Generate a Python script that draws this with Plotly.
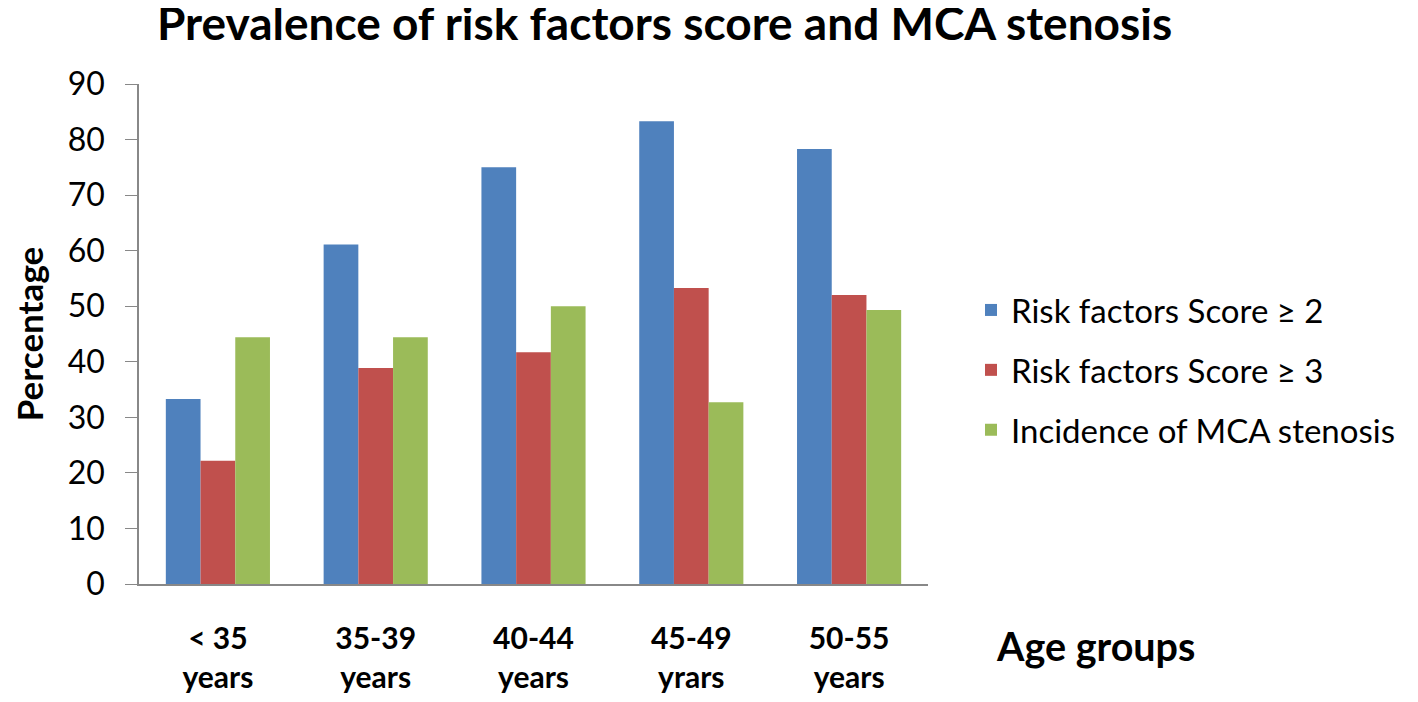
import plotly.graph_objects as go

categories = ["< 35<br>years", "35-39<br>years", "40-44<br>years", "45-49<br>yrars", "50-55<br>years"]
score2 = [33.3, 61.1, 75.0, 83.3, 78.3]
score3 = [22.2, 38.9, 41.7, 53.3, 52.0]
mca = [44.4, 44.4, 50.0, 32.7, 49.3]
series_names = ["Risk factors Score ≥ 2", "Risk factors Score ≥ 3", "Incidence of MCA stenosis"]
colors = ["#4F81BD", "#C0504D", "#9BBB59"]

font_family = "Lato, 'Open Sans', sans-serif"

fig = go.Figure()
for i, (name, vals, c) in enumerate(zip(series_names, [score2, score3, mca], colors)):
    fig.add_trace(go.Bar(x=categories, y=vals, name=name, legendgroup=f"g{i}",
                         marker=dict(color=c, line=dict(width=0))))

fig.update_layout(
    width=1418, height=702,
    barmode="group", bargap=0.34, bargroupgap=0,
    plot_bgcolor="white", paper_bgcolor="white",
    margin=dict(l=131, r=498, t=76, b=126, autoexpand=False),
    font=dict(family=font_family, color="black"),
    title=dict(text="<b>Prevalence of risk factors score and MCA stenosis</b>",
               x=0.463, xanchor="center", y=1.0, yanchor="top",
               font=dict(size=46, color="black")),
    legend=dict(x=1.0545, y=0.428, xanchor="left", yanchor="middle",
                font=dict(size=33, color="black"), tracegroupgap=14,
                itemwidth=30),
    showlegend=True,
)
fig.update_yaxes(range=[0, 90], dtick=10, showgrid=False, zeroline=False, automargin=False,
                 showline=True, linecolor="#888888", linewidth=1.5,
                 ticks="outside", ticklen=12, tickcolor="#888888",
                 tickfont=dict(size=32), ticklabelstandoff=14,
                 title=dict(text="<b>Percentage</b>", font=dict(size=35), standoff=34))
fig.update_xaxes(showline=True, linecolor="#888888", linewidth=1.5, showgrid=False, automargin=False,
                 ticks="", tickfont=dict(size=30), ticklabelstandoff=27)
fig.update_xaxes(tickmode="array", tickvals=categories,
                 ticktext=["<b>" + c.replace("<br>", "</b><br><b>") + "</b>" for c in categories])
fig.add_annotation(text="<b>Age groups</b>", xref="paper", yref="paper",
                   x=1.0837, y=-0.122, xanchor="left", yanchor="middle",
                   showarrow=False, font=dict(size=39.5, color="black"))

fig.write_html("out.html")
